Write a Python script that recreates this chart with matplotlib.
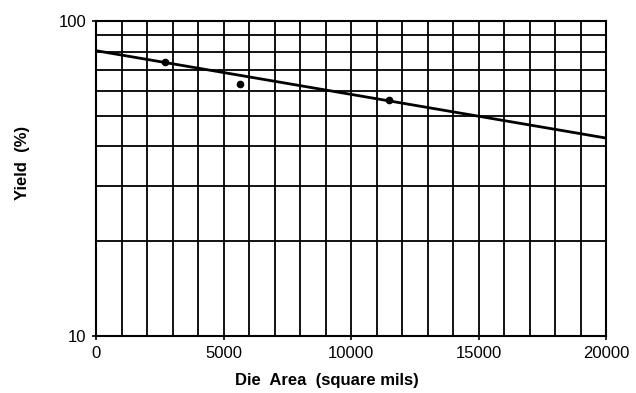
import matplotlib
matplotlib.use("Agg")
import matplotlib.pyplot as plt
from matplotlib.ticker import FixedLocator, NullFormatter, FixedFormatter

plt.rcParams['font.family'] = ['Liberation Sans', 'DejaVu Sans']

# Data
die_area = [2700, 5650, 11500]          # square mils
yield_pct = [74.0, 63.3, 56.0]          # %
fit_x = [0, 20000]
fit_y = [80.5, 42.5]

x_ticks = [0, 5000, 10000, 15000, 20000]
x_tick_labels = ["0", "5000", "10000", "15000", "20000"]
y_ticks = [10, 100]
y_tick_labels = ["10", "100"]

fig = plt.figure(figsize=(6.36, 3.93), dpi=100)
ax = fig.add_axes([96/636, 1 - 336/393, (606-96)/636, (336-21)/393])

ax.set_yscale('log')
ax.set_xlim(0, 20000)
ax.set_ylim(10, 100)

# grid
for gx in range(1000, 20000, 1000):
    ax.axvline(gx, color='black', lw=1.3, zorder=1)
for gy in range(20, 100, 10):
    ax.axhline(gy, color='black', lw=1.3, zorder=1)

ax.plot(fit_x, fit_y, color='black', lw=2.0, zorder=3)
ax.plot(die_area, yield_pct, 'o', color='black', ms=4.5, zorder=4)

for s in ax.spines.values():
    s.set_linewidth(1.5)

ax.xaxis.set_major_locator(FixedLocator(x_ticks))
ax.xaxis.set_major_formatter(FixedFormatter(x_tick_labels))
ax.yaxis.set_major_locator(FixedLocator(y_ticks))
ax.yaxis.set_major_formatter(FixedFormatter(y_tick_labels))
ax.yaxis.set_minor_locator(FixedLocator([]))
ax.yaxis.set_minor_formatter(NullFormatter())

ax.tick_params(axis='x', direction='out', length=3, width=1.2, pad=4, labelsize=12)
ax.tick_params(axis='y', direction='inout', length=6, width=1.2, pad=4, labelsize=12)

ax.set_xlabel("Die  Area  (square mils)", fontsize=12, fontweight='bold')
ax.xaxis.set_label_coords(0.453, -0.117)
ax.set_ylabel("Yield  (%)", fontsize=12, fontweight='bold')
ax.yaxis.set_label_coords(-0.129, 0.55)

fig.savefig("out.png", dpi=100)
